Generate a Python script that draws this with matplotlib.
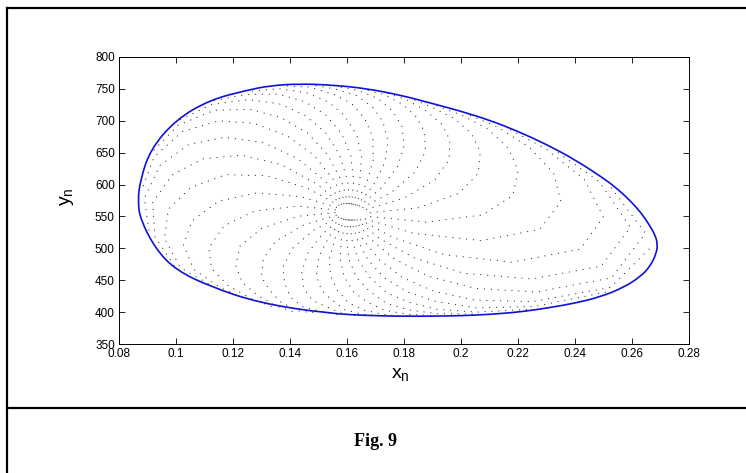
import numpy as np
import matplotlib.pyplot as plt
from matplotlib.lines import Line2D
from matplotlib.path import Path
from matplotlib.patches import PathPatch

plt.rcParams['font.family'] = ['Liberation Sans', 'DejaVu Sans']
plt.rcParams['mathtext.fontset'] = 'custom'
plt.rcParams['mathtext.rm'] = 'Liberation Sans'

# closed invariant curve (blue), counter-clockwise
curve_x = [0.2690, 0.2680, 0.2662, 0.2635, 0.2600, 0.2550, 0.2500, 0.2400,
           0.2300, 0.2200, 0.2100, 0.2000, 0.1900, 0.1790, 0.1670, 0.1550,
           0.1430, 0.1330, 0.1250, 0.1120, 0.1000, 0.0910, 0.0875, 0.0866,
           0.0875, 0.0930, 0.1000, 0.1120, 0.1295, 0.1530, 0.1700, 0.1850,
           0.1960, 0.2050, 0.2140, 0.2220, 0.2310, 0.2400, 0.2490, 0.2570,
           0.2628, 0.2663, 0.2686]
curve_y = [508, 522, 536, 554, 572, 593, 610, 639,
           663, 683.5, 701, 715, 727, 740, 750.5, 756,
           758, 755, 748, 733, 702, 655, 607, 575,
           545, 498, 466, 440, 414, 398, 394, 393.5,
           394, 395.2, 397.7, 401, 407, 414, 424, 438.5,
           455, 471, 492]

# attracting fixed point in the middle of the dotted spirals
fixed_x = 0.161
fixed_y = 556

# shape of one dotted spiral arm: fraction of the way out to the curve,
# and how far (deg) the arm has turned at that distance
arm_rho = [0.07, 0.25, 0.45, 0.62, 0.76, 0.86, 0.93, 0.97, 0.988]
arm_twist = [0, 4, 10, 17, 25, 33, 42, 52, 62]
# direction (deg) each arm leaves the fixed point
arm_start = [0, 11, 22, 34, 45, 56, 68, 79, 90, 101, 112, 124, 135, 146,
             158, 169, 180, 191, 202, 214, 225, 236, 248, 259, 270, 281,
             292, 304, 315, 326, 338, 349]

xticks = [0.08, 0.1, 0.12, 0.14, 0.16, 0.18, 0.2, 0.22, 0.24, 0.26, 0.28]
xtick_labels = ['0.08', '0.1', '0.12', '0.14', '0.16', '0.18', '0.2',
                '0.22', '0.24', '0.26', '0.28']
yticks = [350, 400, 450, 500, 550, 600, 650, 700, 750, 800]

fig = plt.figure(figsize=(7.46, 4.73), dpi=100)
ax = fig.add_axes([0.1595, 0.2727, 0.764, 0.6068])
ax.set_xlim(0.08, 0.28)
ax.set_ylim(350, 800)

# pixel scale so the arms follow the curve as it looks on screen
sx = 0.764 * 746 / 0.2
sy = 0.6068 * 473 / 450.0
cx = np.array(curve_x)
cy = np.array(curve_y)
u = (cx - fixed_x) * sx
v = (cy - fixed_y) * sy
ang = np.degrees(np.arctan2(v, u))
rad = np.hypot(u, v)
order = np.argsort(ang)
ang, rad = ang[order], rad[order]

rho = np.array(arm_rho)
tw = np.array(arm_twist)
for a0 in arm_start:
    phi = a0 + tw
    R = np.interp(phi % 360 - 360 * ((phi % 360) > 180), ang, rad, period=360)
    px = fixed_x + rho * R * np.cos(np.radians(phi)) / sx
    py = fixed_y + rho * R * np.sin(np.radians(phi)) / sy
    ax.plot(px, py, color='0.15', lw=0.8, dashes=(0.2, 6),
            dash_capstyle='round')

# smooth closed curve: read points used as quadratic bezier controls
pts = np.column_stack([curve_x, curve_y])
mids = (pts + np.roll(pts, -1, axis=0)) / 2
verts = [mids[-1]]
codes = [Path.MOVETO]
for i in range(len(pts)):
    verts += [pts[i], mids[i]]
    codes += [Path.CURVE3, Path.CURVE3]
ax.add_patch(PathPatch(Path(verts, codes), fill=False, edgecolor='#1010dd',
                       lw=1.2))

ax.set_xticks(xticks)
ax.set_xticklabels(xtick_labels)
ax.set_yticks(yticks)
ax.tick_params(direction='in', top=True, right=True, length=4, width=0.6,
               labelsize=8.5, pad=3)
for s in ax.spines.values():
    s.set_linewidth(0.7)

ax.set_xlabel(r'$\mathregular{x_n}$', fontsize=14)
ax.xaxis.set_label_coords(0.493, -0.077)
ax.set_ylabel(r'$\mathregular{y_n}$', fontsize=14)
ax.yaxis.set_label_coords(-0.075, 0.512)

# table-like frame around the figure and caption
fig.add_artist(Line2D([0.0094, 1.0], [0.983, 0.983], color='black', lw=1.6))
fig.add_artist(Line2D([0.0094, 0.0094], [0.0, 0.983], color='black', lw=1.6))
fig.add_artist(Line2D([0.0094, 1.0], [0.1374, 0.1374], color='black', lw=1.6))
fig.text(0.504, 1 - 441 / 473, 'Fig. 9', family='Liberation Serif',
         weight='bold', fontsize=13, ha='center', va='center')

fig.savefig('out.png', dpi=100)
